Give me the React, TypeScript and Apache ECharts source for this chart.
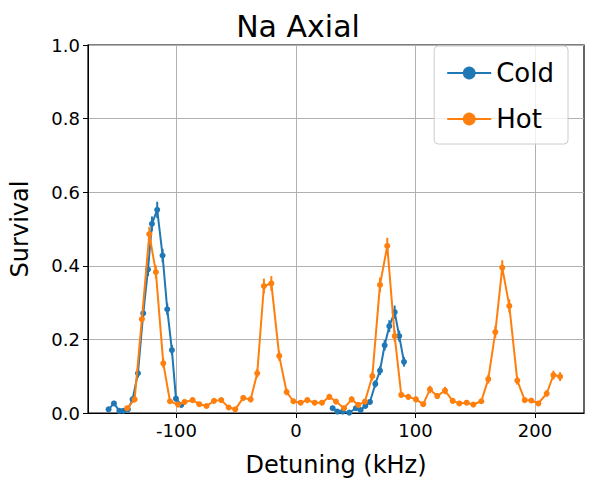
import { useEffect, useRef } from "react";
import * as echarts from "echarts";

// [detuning kHz, survival, error]
const coldData: number[][] = [
  [-156.8, 0.010, 0.006], [-152.3, 0.026, 0.006], [-147.8, 0.006, 0.005], [-144.5, 0.006, 0.005],
  [-140.6, 0.010, 0.006], [-136.7, 0.037, 0.008], [-132.2, 0.108, 0.012], [-127.8, 0.271, 0.016],
  [-123.8, 0.390, 0.018], [-120.5, 0.514, 0.020], [-116.1, 0.552, 0.022], [-111.6, 0.428, 0.018],
  [-107.7, 0.282, 0.016], [-103.8, 0.171, 0.014], [-100.4, 0.039, 0.008], [-96.0, 0.022, 0.006],
  [30.7, 0.013, 0.006], [34.6, 0.004, 0.004], [39.1, 0.004, 0.004], [44.6, 0.001, 0.003],
  [50.2, 0.013, 0.006], [54.1, 0.008, 0.005], [58.0, 0.019, 0.006], [61.9, 0.030, 0.007],
  [66.4, 0.079, 0.010], [70.3, 0.115, 0.012], [74.2, 0.184, 0.014], [78.1, 0.236, 0.016],
  [82.6, 0.274, 0.018], [86.4, 0.209, 0.015], [90.4, 0.139, 0.013],
];
// the cold scan has a gap between these two detunings
const coldGapAfter = -96.0;

const hotData: number[][] = [
  [-141.2, 0.013, 0.006], [-135.0, 0.037, 0.008], [-128.9, 0.255, 0.016], [-122.7, 0.486, 0.020],
  [-117.2, 0.383, 0.018], [-111.0, 0.135, 0.012], [-105.4, 0.032, 0.007], [-98.7, 0.023, 0.006],
  [-93.2, 0.030, 0.007], [-86.5, 0.035, 0.007], [-80.9, 0.024, 0.006], [-74.8, 0.019, 0.006],
  [-68.6, 0.033, 0.007], [-62.5, 0.035, 0.007], [-56.3, 0.015, 0.006], [-50.8, 0.010, 0.005],
  [-44.1, 0.041, 0.008], [-37.9, 0.037, 0.008], [-32.4, 0.108, 0.012], [-26.8, 0.345, 0.020],
  [-20.6, 0.352, 0.020], [-14.0, 0.155, 0.013], [-7.8, 0.057, 0.009], [-2.2, 0.032, 0.007],
  [3.9, 0.028, 0.007], [9.5, 0.035, 0.007], [15.6, 0.028, 0.007], [21.8, 0.028, 0.007],
  [27.9, 0.044, 0.008], [33.5, 0.031, 0.007], [40.2, 0.013, 0.006], [46.6, 0.037, 0.008],
  [52.1, 0.022, 0.006], [57.7, 0.031, 0.007], [63.9, 0.100, 0.012], [70.3, 0.348, 0.020],
  [76.4, 0.454, 0.022], [82.6, 0.209, 0.016], [88.1, 0.049, 0.008], [94.0, 0.044, 0.008],
  [100.4, 0.037, 0.008], [106.5, 0.024, 0.006], [112.1, 0.064, 0.010], [118.2, 0.046, 0.008],
  [124.7, 0.061, 0.010], [131.1, 0.033, 0.007], [136.7, 0.026, 0.006], [142.8, 0.028, 0.007],
  [148.4, 0.023, 0.006], [155.1, 0.032, 0.007], [160.9, 0.092, 0.012], [166.8, 0.220, 0.016],
  [172.6, 0.395, 0.020], [178.5, 0.291, 0.018], [185.2, 0.088, 0.011], [191.4, 0.035, 0.007],
  [196.9, 0.034, 0.007], [202.8, 0.026, 0.006], [209.8, 0.053, 0.009], [215.4, 0.103, 0.012],
  [221.0, 0.099, 0.012],
];

const xTicks = [-100, 0, 100, 200];
const seriesNames = ["Cold", "Hot"];
const colors = ["#1f77b4", "#ff7f0e"];

function errorBars(name: string, data: number[][], color: string) {
  return {
    name,
    type: "custom",
    data,
    z: 3,
    renderItem: (_p: any, api: any) => {
      const x = api.value(0);
      const y = api.value(1);
      const e = api.value(2);
      const lo = api.coord([x, y - e]);
      const hi = api.coord([x, y + e]);
      return {
        type: "line",
        shape: { x1: lo[0], y1: lo[1], x2: hi[0], y2: hi[1] },
        style: { stroke: color, lineWidth: 2 },
      };
    },
  };
}

export default function App() {
  const chartRef = useRef<HTMLDivElement>(null);

  useEffect(() => {
    if (!chartRef.current) return;
    const chart = echarts.init(chartRef.current, undefined, { renderer: "svg" });
    const font = "DejaVu Sans";

    const coldLine: any[] = [];
    coldData.forEach((d) => {
      coldLine.push([d[0], d[1]]);
      if (d[0] === coldGapAfter) coldLine.push(null);
    });

    chart.setOption({
      animation: false,
      textStyle: { fontFamily: font },
      title: {
        text: "Na Axial",
        left: "center",
        top: 6,
        textStyle: { fontSize: 30, fontWeight: "normal", color: "#000", fontFamily: font },
      },
      grid: { left: 88, right: 12, top: 45, bottom: 74, show: true, borderColor: "#000", borderWidth: 1.2 },
      legend: {
        data: seriesNames,
        right: 28,
        top: 46,
        orient: "vertical",
        itemWidth: 44,
        itemHeight: 16,
        itemGap: 20,
        padding: [14, 14, 12, 12],
        borderColor: "#ccc",
        borderWidth: 1,
        borderRadius: 4,
        backgroundColor: "rgba(255,255,255,0.8)",
        textStyle: { fontSize: 26, color: "#000", fontFamily: font },
      },
      xAxis: {
        type: "value",
        min: -174,
        max: 241,
        name: "Detuning (kHz)",
        nameLocation: "middle",
        nameGap: 40,
        nameTextStyle: { fontSize: 24, color: "#000", fontFamily: font },
        axisLine: { onZero: false, lineStyle: { color: "#000" } },
        axisTick: { show: true, customValues: xTicks, length: 5, lineStyle: { color: "#000" } },
        axisLabel: { customValues: xTicks, fontSize: 18, color: "#000", margin: 8 },
        splitLine: { show: true, lineStyle: { color: "#b0b0b0", width: 1 } },
      },
      yAxis: {
        type: "value",
        min: 0,
        max: 1,
        interval: 0.2,
        name: "Survival",
        nameLocation: "middle",
        nameGap: 56,
        nameTextStyle: { fontSize: 24, color: "#000", fontFamily: font },
        axisLine: { show: true, onZero: false, lineStyle: { color: "#000" } },
        axisTick: { show: true, length: 5, lineStyle: { color: "#000" } },
        axisLabel: { fontSize: 18, color: "#000", formatter: (v: number) => v.toFixed(1) },
        splitLine: { show: true, lineStyle: { color: "#b0b0b0", width: 1 } },
      },
      series: [
        {
          name: "Cold",
          type: "line",
          data: coldLine,
          connectNulls: false,
          color: colors[0],
          symbol: "circle",
          symbolSize: 6,
          lineStyle: { width: 2 },
          z: 4,
        },
        errorBars("Cold", coldData, colors[0]),
        {
          name: "Hot",
          type: "line",
          data: hotData.map((d) => [d[0], d[1]]),
          color: colors[1],
          symbol: "circle",
          symbolSize: 6,
          lineStyle: { width: 2 },
          z: 5,
        },
        errorBars("Hot", hotData, colors[1]),
      ],
    });

    return () => chart.dispose();
  }, []);

  return (
    <div
      ref={chartRef}
      style={{ position: "absolute", left: 0, top: 0, width: 596, height: 487 }}
    />
  );
}
